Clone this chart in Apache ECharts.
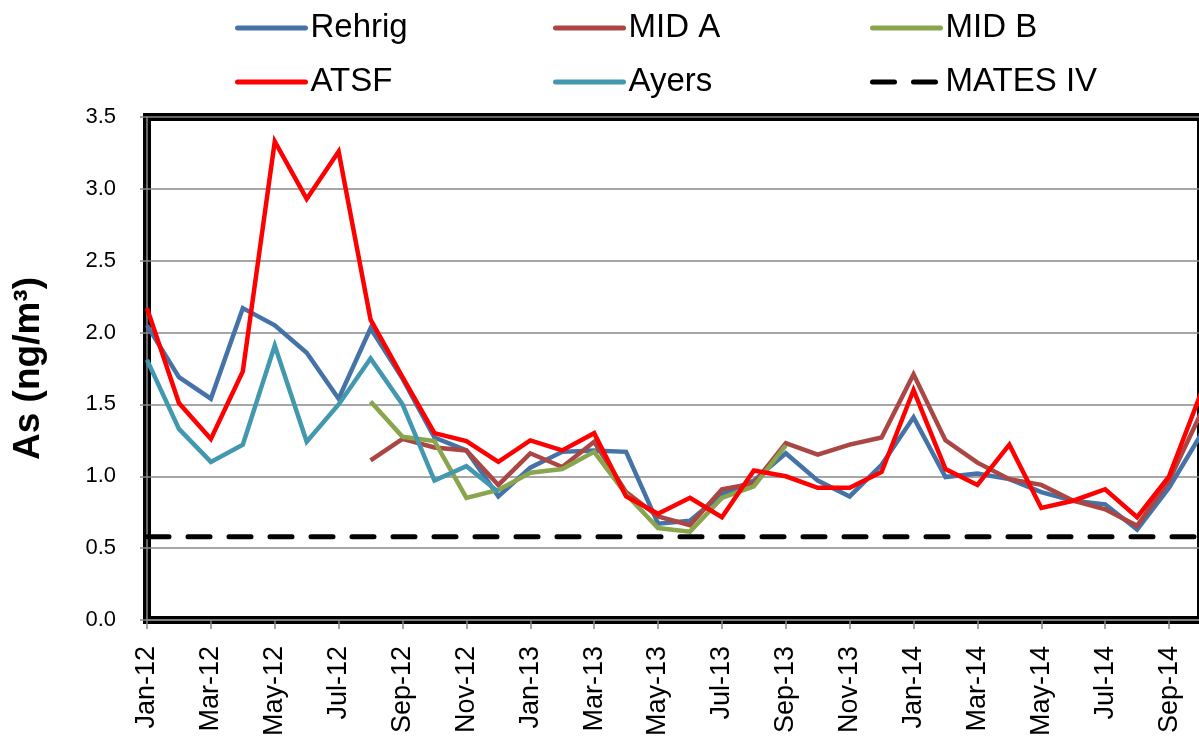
<!DOCTYPE html>
<html>
<head>
<meta charset="utf-8">
<script src="https://cdn.jsdelivr.net/npm/echarts@6/dist/echarts.min.js"></script>
<style>
html,body{margin:0;padding:0;background:#fff;}
#chart{width:1199px;height:753px;}
</style>
</head>
<body>
<div id="chart"></div>
<script>
var categories = ['Jan-12','Feb-12','Mar-12','Apr-12','May-12','Jun-12','Jul-12','Aug-12','Sep-12','Oct-12','Nov-12','Dec-12',
  'Jan-13','Feb-13','Mar-13','Apr-13','May-13','Jun-13','Jul-13','Aug-13','Sep-13','Oct-13','Nov-13','Dec-13',
  'Jan-14','Feb-14','Mar-14','Apr-14','May-14','Jun-14','Jul-14','Aug-14','Sep-14','Oct-14'];

var rehrig = [2.05,1.69,1.54,2.17,2.05,1.86,1.54,2.03,1.68,1.27,1.18,0.86,1.06,1.17,1.18,1.17,0.67,0.69,0.875,0.97,
  1.16,0.97,0.86,1.08,1.41,0.995,1.02,0.98,0.89,0.83,0.805,0.63,0.92,1.29];
var midA = [null,null,null,null,null,null,null,1.11,1.26,1.20,1.18,0.94,1.16,1.065,1.24,0.89,0.72,0.66,0.91,0.95,
  1.23,1.15,1.22,1.27,1.71,1.25,1.095,0.98,0.94,0.83,0.77,0.655,0.97,1.44];
var midB = [null,null,null,null,null,null,null,1.52,1.275,1.245,0.85,0.905,1.025,1.05,1.17,0.875,0.64,0.615,0.85,0.93,
  1.215,null,null,null,null,null,null,null,null,null,null,null,null,null];
var atsf = [2.17,1.51,1.26,1.73,3.33,2.93,3.26,2.09,1.69,1.30,1.245,1.10,1.25,1.18,1.30,0.86,0.74,0.85,0.715,1.04,
  1.00,0.92,0.92,1.03,1.60,1.05,0.94,1.22,0.78,0.83,0.91,0.715,1.00,1.58];
var ayers = [1.81,1.33,1.10,1.22,1.91,1.24,1.50,1.82,1.50,0.97,1.07,0.89,null,null,null,null,null,null,null,null,
  null,null,null,null,null,null,null,null,null,null,null,null,null,null];
var matesIV = [0.58,0.58,0.58,0.58,0.58,0.58,0.58,0.58,0.58,0.58,0.58,0.58,0.58,0.58,0.58,0.58,0.58,0.58,0.58,0.58,
  0.58,0.58,0.58,0.58,0.58,0.58,0.58,0.58,0.58,0.58,0.58,0.58,0.58,0.58];

var seriesNames = ['Rehrig','MID A','MID B','ATSF','Ayers','MATES IV'];
var seriesColors = ['#4572A7','#AA4643','#89A54E','#FF0000','#4198AF','#000000'];
var seriesData = [rehrig, midA, midB, atsf, ayers, matesIV];

var FONT = '"Liberation Sans", Arial, sans-serif';

var series = seriesNames.map(function(n, i){
  var dashed = (n === 'MATES IV');
  return {
    name: n,
    type: 'line',
    data: seriesData[i],
    symbol: 'none',
    connectNulls: false,
    lineStyle: {
      color: seriesColors[i],
      width: dashed ? 5 : 4.5,
      type: dashed ? [22, 19] : 'solid',
      cap: dashed ? 'round' : 'butt',
      join: 'miter'
    },
    itemStyle: { color: seriesColors[i], opacity: 0 },
    emphasis: { disabled: true }
  };
});

function legendCol(names, left){
  return {
    data: names,
    orient: 'vertical',
    left: left,
    top: 6,
    itemWidth: 68,
    itemHeight: 14,
    itemGap: 20,
    itemStyle: { opacity: 0 },
    lineStyle: { width: 5, cap: 'round' },
    textStyle: { fontFamily: FONT, fontSize: 33, color: '#000', lineHeight: 34 },
    selectedMode: false
  };
}

var chart = echarts.init(document.getElementById('chart'), null, { renderer: 'canvas' });
chart.setOption({
  animation: false,
  backgroundColor: '#fff',
  legend: [
    legendCol(['Rehrig','ATSF'], 230),
    legendCol(['MID A','Ayers'], 548),
    legendCol(['MID B','MATES IV'], 865)
  ],
  grid: {
    left: 147, right: -2, top: 117, bottom: 133,
    containLabel: false,
    outerBoundsMode: 'none',
    show: true,
    borderColor: '#000',
    borderWidth: 8,
    backgroundColor: 'transparent'
  },
  xAxis: {
    type: 'category',
    data: categories,
    boundaryGap: false,
    axisLine: { show: true, lineStyle: { color: '#888', width: 1.5 } },
    axisTick: { show: true, interval: 1, length: 9, lineStyle: { color: '#888', width: 1.5 } },
    axisLabel: {
      interval: 1, rotate: 90, margin: 26,
      fontFamily: FONT, fontSize: 27, color: '#000'
    },
    splitLine: { show: false }
  },
  yAxis: {
    type: 'value',
    min: 0, max: 3.5, interval: 0.5,
    name: 'As (ng/m³)',
    nameLocation: 'middle',
    nameRotate: 90,
    nameGap: 100,
    nameTextStyle: { fontFamily: FONT, fontSize: 37, fontWeight: 'bold', color: '#000' },
    axisLine: { show: true, lineStyle: { color: '#888', width: 1.5 } },
    axisTick: { show: true, length: 7, lineStyle: { color: '#888', width: 1.5 } },
    axisLabel: {
      margin: 31,
      fontFamily: FONT, fontSize: 22, color: '#000',
      formatter: function(v){ return v.toFixed(1); }
    },
    splitLine: { show: true, lineStyle: { color: '#888', width: 1.5 } }
  },
  series: series
});
</script>
</body>
</html>
